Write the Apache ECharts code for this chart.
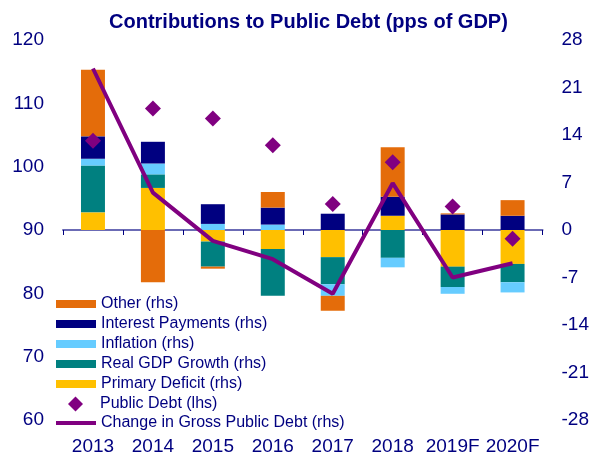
<!DOCTYPE html>
<html>
<head>
<meta charset="utf-8">
<script src="https://cdn.jsdelivr.net/npm/echarts@6/dist/echarts.min.js"></script>
<style>
  * { margin: 0; padding: 0; }
  #chart-container { width: 592px; height: 457px; background: #fff; }
</style>
</head>
<body>
<div id="chart-container"></div>
<script>
  var years = ['2013', '2014', '2015', '2016', '2017', '2018', '2019F', '2020F']

  // contributions (rhs, pps of GDP)
  var primaryDeficit = [2.6, 6.2, -1.7, -2.8, -4.0, 2.1, -5.4, -5.0]
  var realGdpGrowth = [6.9, 2.0, -3.7, -6.9, -4.0, -4.1, -3.0, -2.7]
  var inflation = [1.0, 1.6, 0.9, 0.8, -1.7, -1.4, -1.0, -1.5]
  var interestPayments = [3.3, 3.2, 2.9, 2.5, 2.4, 2.8, 2.3, 2.1]
  var other = [9.8, -7.7, -0.3, 2.3, -2.2, 7.3, 0.15, 2.3]

  // change in gross public debt (rhs)
  var changeInDebt = [23.8, 5.5, -1.6, -4.3, -9.4, 6.9, -7.0, -4.9]
  // public debt level (lhs, % of GDP)
  var publicDebt = [104.1, 109.2, 107.6, 103.4, 94.1, 100.7, 93.7, 88.6]

  var leftTicks = { min: 60, max: 120, interval: 10 }
  var rightTicks = { min: -28, max: 28, interval: 7 }

  var navy = '#000080'
  var purple = '#800080'
  var font = 'Liberation Sans, Arial, sans-serif'

  var chartDom = document.getElementById('chart-container')
  var myChart = echarts.init(chartDom, null, { renderer: 'canvas' })

  function barSeries(name, data, color) {
    return {
      name: name,
      type: 'bar',
      stack: 'contrib',
      xAxisIndex: 0,
      yAxisIndex: 1,
      barWidth: '40%',
      itemStyle: { color: color },
      data: data,
    }
  }

  var legendText = { color: navy, fontSize: 16, lineHeight: 16, fontFamily: font }

  var option = {
    animation: false,
    textStyle: { fontFamily: font },
    title: {
      text: 'Contributions to Public Debt (pps of GDP)',
      left: 109,
      top: 12,
      padding: 0,
      textStyle: { color: navy, fontSize: 20, fontWeight: 'bold', fontFamily: font },
    },
    legend: [
      {
        orient: 'vertical',
        left: 56,
        top: 296,
        padding: 0,
        itemWidth: 40,
        itemHeight: 8,
        itemGap: 4,
        icon: 'rect',
        textStyle: legendText,
        data: ['Other (rhs)', 'Interest Payments (rhs)', 'Inflation (rhs)', 'Real GDP Growth (rhs)', 'Primary Deficit (rhs)'],
      },
      {
        left: 68,
        top: 396,
        padding: 0,
        itemWidth: 15,
        itemHeight: 15,
        textStyle: Object.assign({}, legendText, { padding: [0, 0, 0, 12] }),
        data: [{ name: 'Public Debt (lhs)', icon: 'diamond' }],
      },
      {
        left: 56,
        top: 415,
        padding: 0,
        itemWidth: 40,
        itemHeight: 4,
        icon: 'rect',
        textStyle: legendText,
        data: ['Change in Gross Public Debt (rhs)'],
      },
    ],
    grid: { left: 63, right: 49, top: 40, bottom: 37 },
    xAxis: [
      {
        type: 'category',
        data: years,
        position: 'bottom',
        axisLine: { show: false, onZero: false },
        axisTick: { show: false },
        axisLabel: { color: navy, fontSize: 19, margin: 17, interval: 0 },
      },
      {
        type: 'category',
        data: years,
        position: 'bottom',
        axisLine: { show: true, onZero: true, onZeroAxisIndex: 1, lineStyle: { color: '#6b6bb5', width: 2 } },
        axisTick: { show: true, length: 5, lineStyle: { color: navy } },
        axisLabel: { show: false },
      },
    ],
    yAxis: [
      {
        type: 'value',
        position: 'left',
        min: leftTicks.min,
        max: leftTicks.max,
        interval: leftTicks.interval,
        axisLine: { show: false },
        axisTick: { show: false },
        splitLine: { show: false },
        axisLabel: { color: navy, fontSize: 19, margin: 19 },
      },
      {
        type: 'value',
        position: 'right',
        min: rightTicks.min,
        max: rightTicks.max,
        interval: rightTicks.interval,
        axisLine: { show: false },
        axisTick: { show: false },
        splitLine: { show: false },
        axisLabel: { color: navy, fontSize: 19, margin: 19 },
      },
    ],
    series: [
      barSeries('Primary Deficit (rhs)', primaryDeficit, '#ffc000'),
      barSeries('Real GDP Growth (rhs)', realGdpGrowth, '#008080'),
      barSeries('Inflation (rhs)', inflation, '#66ccff'),
      barSeries('Interest Payments (rhs)', interestPayments, '#000080'),
      barSeries('Other (rhs)', other, '#e46c0a'),
      {
        name: 'Change in Gross Public Debt (rhs)',
        type: 'line',
        xAxisIndex: 0,
        yAxisIndex: 1,
        symbol: 'none',
        lineStyle: { color: purple, width: 4 },
        itemStyle: { color: purple },
        data: changeInDebt,
        z: 3,
      },
      {
        name: 'Public Debt (lhs)',
        type: 'scatter',
        xAxisIndex: 0,
        yAxisIndex: 0,
        symbol: 'diamond',
        symbolSize: 16,
        itemStyle: { color: purple, opacity: 1 },
        data: publicDebt,
        z: 4,
      },
    ],
  }

  myChart.setOption(option)
  window.addEventListener('resize', myChart.resize)
</script>
</body>
</html>
